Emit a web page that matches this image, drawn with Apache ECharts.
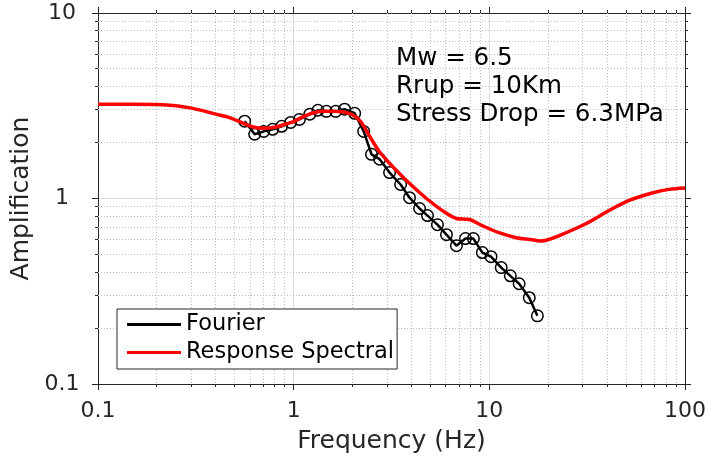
<!DOCTYPE html>
<html>
<head>
<meta charset="utf-8">
<script src="https://cdn.jsdelivr.net/npm/echarts@6.0.0/dist/echarts.min.js"></script>
<style>
html, body { margin: 0; padding: 0; background: #fff; }
#echarts { width: 709px; height: 462px; }
</style>
</head>
<body>
<div id="echarts"></div>
<script>
// Fourier amplification
var fourierFreq = [0.562, 0.632, 0.703, 0.781, 0.868, 0.965, 1.07, 1.21, 1.33, 1.47, 1.64,
                   1.82, 2.05, 2.28, 2.50, 2.75, 3.09, 3.52, 3.91, 4.40, 4.83, 5.43, 6.04,
                   6.79, 7.55, 8.29, 9.21, 10.2, 11.5, 12.8, 14.2, 16.0, 17.6];
var fourierAmp = [2.61, 2.22, 2.30, 2.36, 2.45, 2.57, 2.67, 2.85, 2.99, 2.95, 2.95,
                  3.03, 2.88, 2.30, 1.73, 1.63, 1.38, 1.19, 1.01, 0.883, 0.809, 0.723, 0.638,
                  0.557, 0.608, 0.608, 0.511, 0.486, 0.424, 0.383, 0.347, 0.292, 0.233];

// Response spectral amplification
var responseFreq = [0.1, 0.15, 0.2, 0.25, 0.3, 0.35, 0.4, 0.47, 0.55, 0.63, 0.7, 0.8, 0.9,
                    1.0, 1.12, 1.25, 1.4, 1.6, 1.82, 2.0, 2.2, 2.5, 2.75, 3.09, 3.77, 4.77,
                    5.76, 6.79, 7.9, 9.2, 11.2, 13.7, 16.6, 18.0, 19.5, 22.8, 31.3, 40.9,
                    51.8, 67.9, 82.8, 100];
var responseAmp = [3.22, 3.22, 3.21, 3.16, 3.07, 2.96, 2.85, 2.73, 2.55, 2.42, 2.39, 2.42, 2.51,
                   2.60, 2.76, 2.89, 2.95, 2.95, 2.92, 2.83, 2.60, 2.08, 1.78, 1.55, 1.25, 1.00,
                   0.86, 0.78, 0.77, 0.714, 0.654, 0.615, 0.600, 0.590, 0.596, 0.631, 0.733, 0.861,
                   0.976, 1.07, 1.12, 1.14];

var seriesNames = ['Fourier', 'Response Spectral'];
var xMinor = [0.2, 0.3, 0.4, 0.5, 0.6, 0.7, 0.8, 0.9, 2, 3, 4, 5, 6, 7, 8, 9,
              20, 30, 40, 50, 60, 70, 80, 90];
var yMinor = [0.2, 0.3, 0.4, 0.5, 0.6, 0.7, 0.8, 0.9, 2, 3, 4, 5, 6, 7, 8, 9];
var notes = ['Mw = 6.5', 'Rrup = 10Km', 'Stress Drop = 6.3MPa'];

var axisColor = '#262626';
var font = 'DejaVu Sans';

function zip(a, b){
    var out = [];
    for(var i = 0; i < a.length; i++){
        out.push([a[i], b[i]]);
    }
    return out;
}

function crisp(v){
    return Math.round(v - 0.5) + 0.5;
}

// dotted minor grid lines plus small outward ticks on all four sides
function minorRender(dir){
    return function(params, api){
        var cs = params.coordSys;
        var v = api.value(dir == 'x' ? 0 : 1);
        var dot = {stroke: '#bdbdbd', lineWidth: 1, lineDash: [1, 2]};
        var tk = {stroke: axisColor, lineWidth: 1};
        var kids = [];
        if(dir == 'x'){
            var px = crisp(api.coord([v, 1])[0]);
            var y0 = cs.y, y1 = cs.y + cs.height;
            kids.push({type: 'line', shape: {x1: px, y1: y0, x2: px, y2: y1}, style: dot});
            kids.push({type: 'line', shape: {x1: px, y1: y1, x2: px, y2: y1 + 3}, style: tk});
            kids.push({type: 'line', shape: {x1: px, y1: y0 - 3, x2: px, y2: y0}, style: tk});
        }else{
            var py = crisp(api.coord([1, v])[1]);
            var x0 = cs.x, x1 = cs.x + cs.width;
            kids.push({type: 'line', shape: {x1: x0, y1: py, x2: x1, y2: py}, style: dot});
            kids.push({type: 'line', shape: {x1: x0 - 3, y1: py, x2: x0, y2: py}, style: tk});
            kids.push({type: 'line', shape: {x1: x1, y1: py, x2: x1 + 3, y2: py}, style: tk});
        }
        return {type: 'group', children: kids};
    };
}

function logAxis(extra){
    var ax = {
        type: 'log',
        logBase: 10,
        axisLine: {show: true, onZero: false, lineStyle: {color: axisColor, width: 1}},
        axisTick: {show: true, inside: false, length: 6, lineStyle: {color: axisColor, width: 1}},
        axisLabel: {show: false},
        splitLine: {show: false}
    };
    for(var k in extra){ ax[k] = extra[k]; }
    return ax;
}

var option = {
    animation: false,
    backgroundColor: '#fff',
    textStyle: {fontFamily: font},
    grid: {left: 98, right: 23, top: 13, bottom: 78, containLabel: false},
    xAxis: [
        logAxis({
            min: 0.1, max: 100, position: 'bottom',
            axisLabel: {show: true, fontSize: 22, color: axisColor, margin: 16, fontFamily: font,
                formatter: function(v){ return String(v); }},
            splitLine: {show: true, lineStyle: {color: '#dcdcdc', width: 1}},
            name: 'Frequency (Hz)', nameLocation: 'middle', nameGap: 45,
            nameTextStyle: {fontSize: 25, color: axisColor, fontFamily: font}
        }),
        logAxis({min: 0.1, max: 100, position: 'top'})
    ],
    yAxis: [
        logAxis({
            min: 0.1, max: 10, position: 'left',
            axisLabel: {show: true, fontSize: 22, color: axisColor, margin: 36, align: 'center', fontFamily: font,
                formatter: function(v){ return String(v); }},
            splitLine: {show: true, lineStyle: {color: '#dcdcdc', width: 1}},
            name: 'Amplification', nameLocation: 'middle', nameGap: 59,
            nameTextStyle: {fontSize: 25, color: axisColor, fontFamily: font}
        }),
        logAxis({min: 0.1, max: 10, position: 'right'})
    ],
    legend: {
        orient: 'vertical',
        left: 117,
        top: 309,
        selectedMode: false,
        data: [
            {name: seriesNames[0], icon: 'rect', itemStyle: {color: '#000', borderWidth: 0}},
            {name: seriesNames[1], icon: 'rect', itemStyle: {color: '#ff0000', borderWidth: 0}}
        ],
        itemWidth: 54,
        itemHeight: 3,
        itemGap: 5,
        padding: [4, 3, 5, 10],
        borderColor: axisColor,
        borderWidth: 1,
        backgroundColor: '#fff',
        textStyle: {fontSize: 22.5, lineHeight: 22, color: '#000', fontFamily: font}
    },
    graphic: notes.map(function(t, i){
        return {
            type: 'text', left: 396, top: 46 + i * 28.2, z: 100,
            style: {text: t, fontSize: 24.6, fontFamily: font, fill: '#000'}
        };
    }),
    series: [
        {
            type: 'custom', z: 1, silent: true,
            renderItem: minorRender('x'),
            encode: {x: 0, y: 1},
            data: xMinor.map(function(v){ return [v, 1]; })
        },
        {
            type: 'custom', z: 1, silent: true,
            renderItem: minorRender('y'),
            encode: {x: 0, y: 1},
            data: yMinor.map(function(v){ return [1, v]; })
        },
        {
            name: seriesNames[0],
            type: 'line',
            z: 3,
            data: zip(fourierFreq, fourierAmp),
            symbol: 'circle',
            symbolSize: 11.5,
            showAllSymbol: true,
            lineStyle: {color: '#000', width: 2.5},
            itemStyle: {color: 'rgba(0,0,0,0)', borderColor: '#000', borderWidth: 1.5}
        },
        {
            name: seriesNames[1],
            type: 'line',
            z: 4,
            data: zip(responseFreq, responseAmp),
            symbol: 'none',
            smooth: 0.3,
            lineStyle: {color: '#ff0000', width: 3.5},
            itemStyle: {color: '#ff0000'}
        }
    ]
};

var myChart = echarts.init(document.getElementById('echarts'), null, {renderer: 'canvas'});
myChart.setOption(option);
</script>
</body>
</html>
